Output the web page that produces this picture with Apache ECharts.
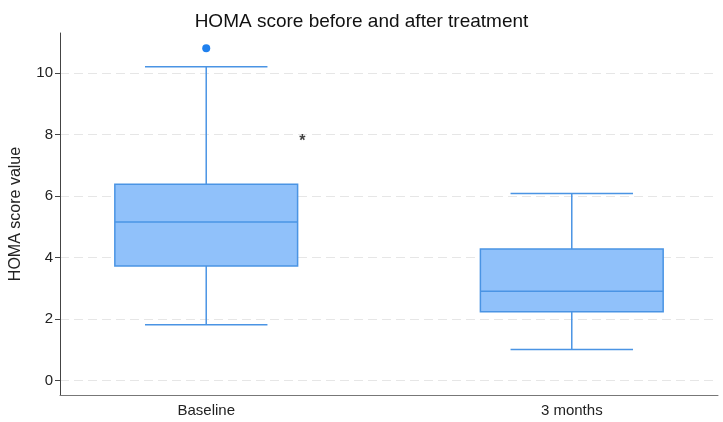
<!DOCTYPE html>
<html>
<head>
<meta charset="utf-8">
<script src="https://cdn.jsdelivr.net/npm/echarts@6/dist/echarts.min.js"></script>
<style>
html,body{margin:0;padding:0;background:#fff;}
#chart{width:723px;height:422px;}
</style>
</head>
<body>
<div id="chart"></div>
<script>
const categories = ['Baseline', '3 months'];
const positions = [1, 2];
const lowerWhisker = [1.82, 1.01];
const q1 = [3.73, 2.24];
const median = [5.16, 2.91];
const q3 = [6.39, 4.28];
const upperWhisker = [10.21, 6.09];
const outliers = [[1, 10.81]];
const annotations = [[1.263, 7.88, '*']];
const yTicks = [0, 2, 4, 6, 8, 10];

const boxData = positions.map((p, i) => [p, lowerWhisker[i], q1[i], median[i], q3[i], upperWhisker[i]]);

const stroke = '#4a94e4';
const fill = '#90c1fa';
const font = 'Liberation Sans, Arial, sans-serif';

const chart = echarts.init(document.getElementById('chart'));
chart.setOption({
  backgroundColor: '#fff',
  animation: false,
  title: {
    text: 'HOMA score before and after treatment',
    left: 'center',
    top: 7,
    textStyle: { fontFamily: font, fontSize: 19, fontWeight: 'normal', color: '#111' }
  },
  grid: { left: 60, right: 5, top: 33, bottom: 27, containLabel: false, outerBoundsMode: 'none' },
  xAxis: {
    type: 'value',
    min: 0.6,
    max: 2.4,
    axisLine: { onZero: false, lineStyle: { color: '#777', width: 1 } },
    axisTick: { show: false },
    splitLine: { show: false },
    axisLabel: {
      customValues: positions,
      formatter: v => categories[positions.indexOf(v)] || '',
      fontFamily: font, fontSize: 15, color: '#222', margin: 8
    }
  },
  yAxis: {
    type: 'value',
    min: -0.47,
    max: 11.31,
    name: 'HOMA score value',
    nameLocation: 'middle',
    nameGap: 36,
    nameTextStyle: { fontFamily: font, fontSize: 16, color: '#222' },
    axisLine: { show: true, lineStyle: { color: '#444', width: 1 } },
    axisTick: { show: true, customValues: yTicks, length: 5, lineStyle: { color: '#444' } },
    axisLabel: { customValues: yTicks, fontFamily: font, fontSize: 15, color: '#222', margin: 7 },
    splitLine: { show: true, lineStyle: { color: '#e6e6e6', type: [9, 5], width: 1 } }
  },
  series: [
    {
      type: 'custom',
      data: boxData,
      renderItem: function (params, api) {
        const x = api.value(0);
        const pLow = api.coord([x, api.value(1)]);
        const pQ1 = api.coord([x, api.value(2)]);
        const pMed = api.coord([x, api.value(3)]);
        const pQ3 = api.coord([x, api.value(4)]);
        const pHigh = api.coord([x, api.value(5)]);
        const boxW = api.size([0.5, 0])[0];
        const capW = api.size([0.335, 0])[0];
        const cx = pMed[0];
        const ls = { stroke: stroke, lineWidth: 1.5 };
        return {
          type: 'group',
          children: [
            { type: 'line', shape: { x1: cx, y1: pQ3[1], x2: cx, y2: pHigh[1] }, style: ls },
            { type: 'line', shape: { x1: cx, y1: pLow[1], x2: cx, y2: pQ1[1] }, style: ls },
            { type: 'line', shape: { x1: cx - capW / 2, y1: pHigh[1], x2: cx + capW / 2, y2: pHigh[1] }, style: ls },
            { type: 'line', shape: { x1: cx - capW / 2, y1: pLow[1], x2: cx + capW / 2, y2: pLow[1] }, style: ls },
            { type: 'rect', shape: { x: cx - boxW / 2, y: pQ3[1], width: boxW, height: pQ1[1] - pQ3[1] }, style: { fill: fill, stroke: stroke, lineWidth: 1.5 } },
            { type: 'line', shape: { x1: cx - boxW / 2, y1: pMed[1], x2: cx + boxW / 2, y2: pMed[1] }, style: ls }
          ]
        };
      }
    },
    {
      type: 'scatter',
      data: outliers,
      symbol: 'circle',
      symbolSize: 8,
      itemStyle: { color: '#1f80ee', opacity: 1 }
    },
    {
      type: 'scatter',
      data: annotations.map(a => [a[0], a[1]]),
      symbolSize: 0,
      label: {
        show: true,
        position: 'inside',
        offset: [0, 3],
        formatter: p => annotations[p.dataIndex][2],
        fontFamily: font, fontSize: 16, fontWeight: 'bold', color: '#111'
      }
    }
  ]
});
</script>
</body>
</html>
